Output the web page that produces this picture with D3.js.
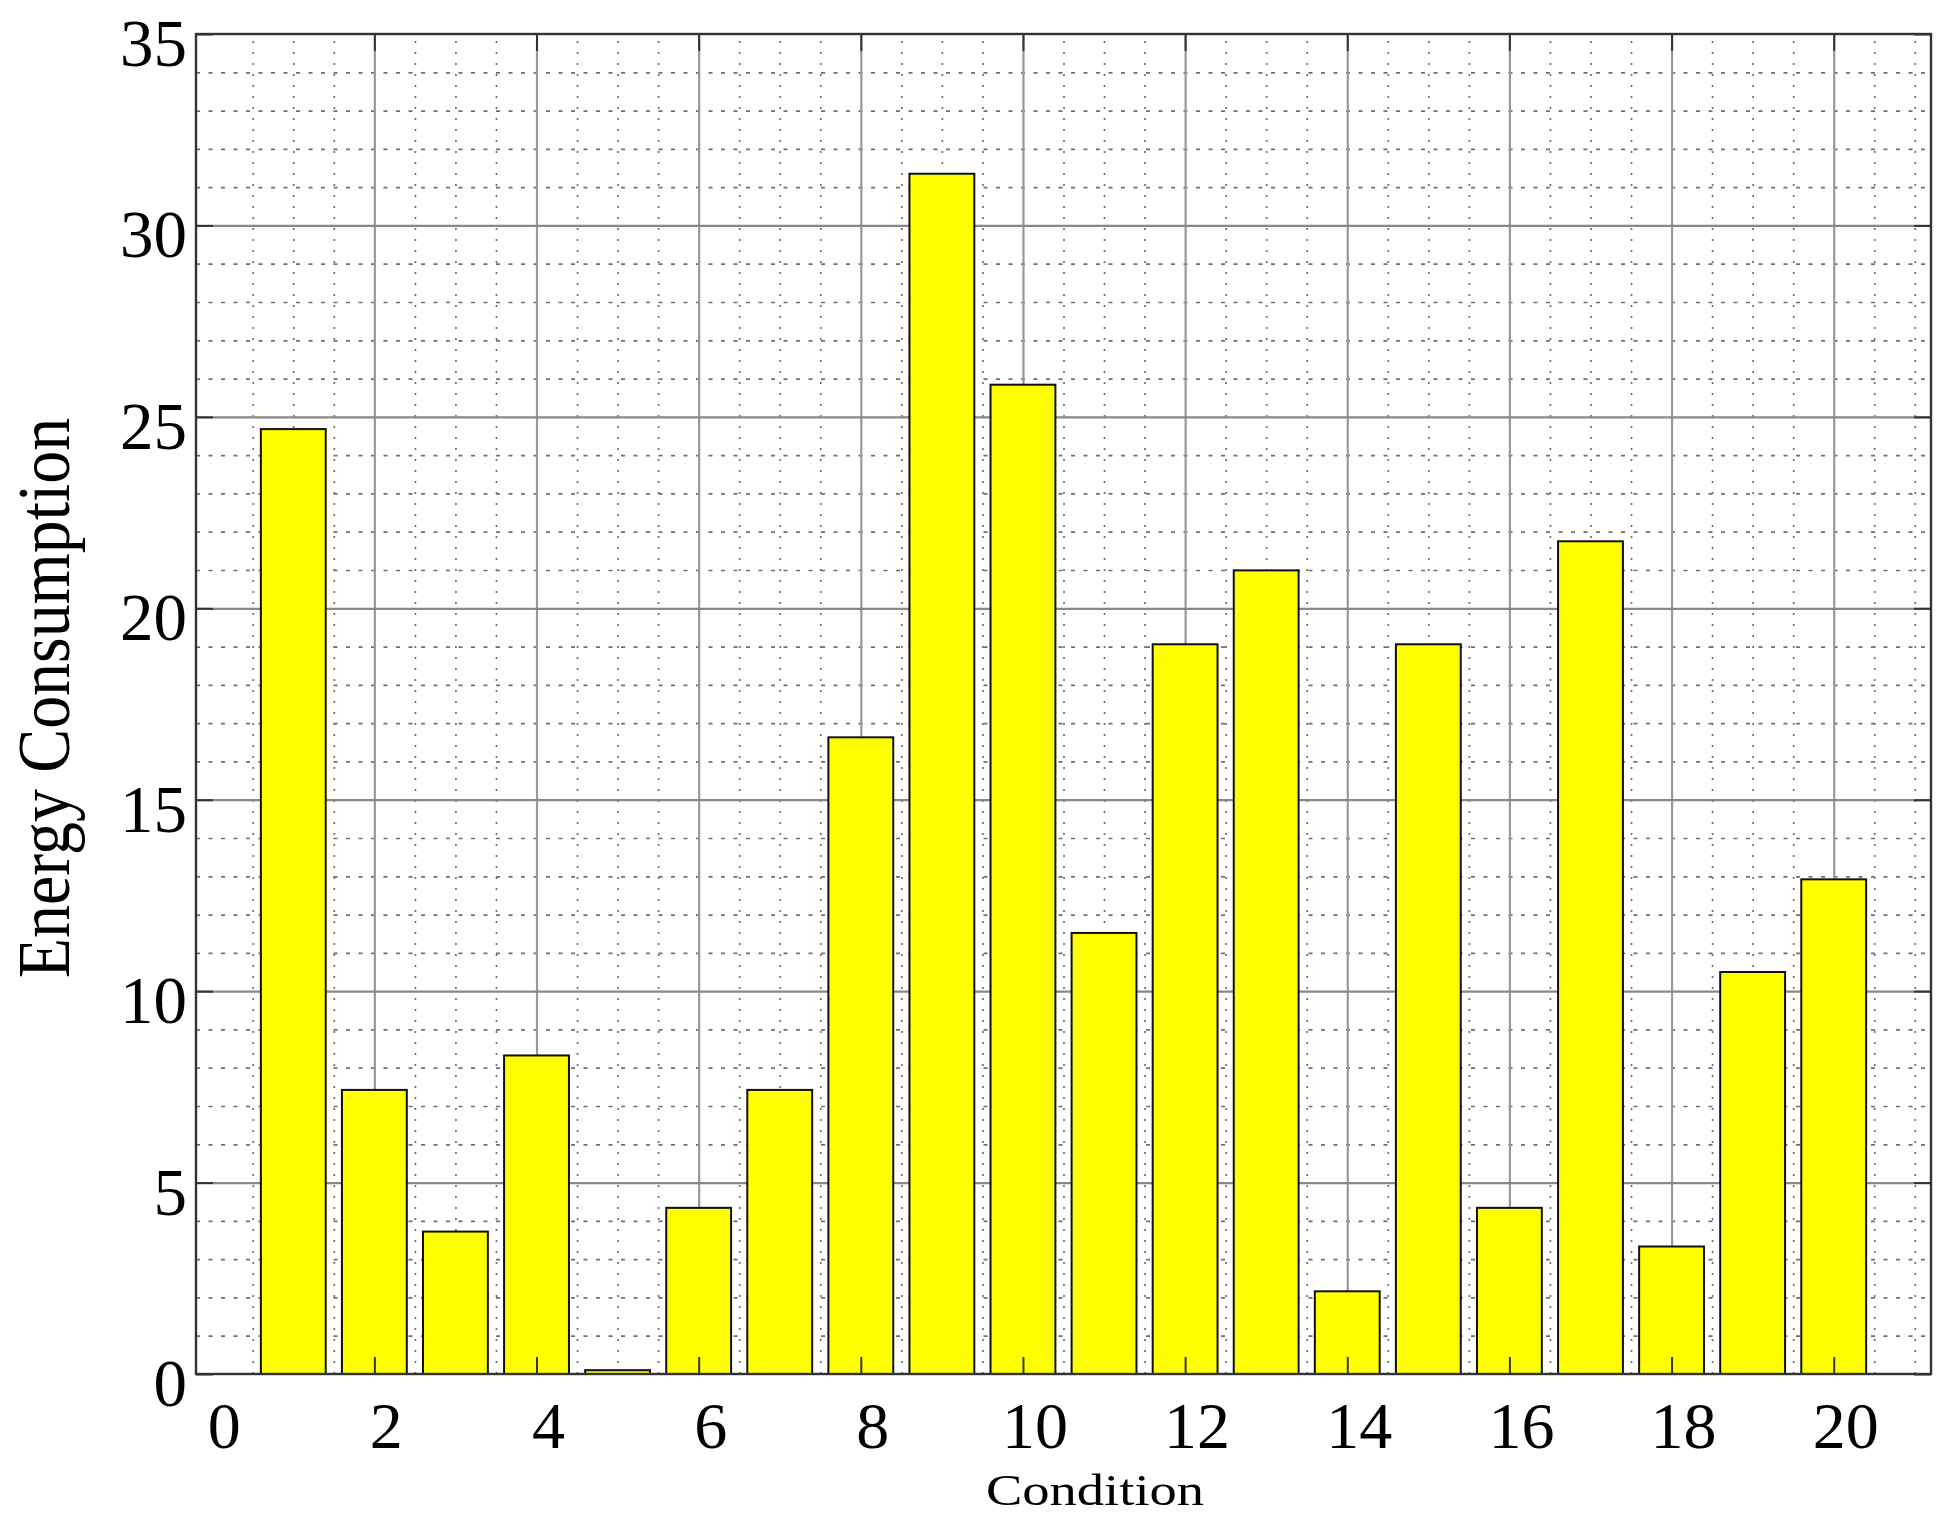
<!DOCTYPE html>
<html>
<head>
<meta charset="utf-8">
<script src="https://cdn.jsdelivr.net/npm/d3@7"></script>
<style>
  body { margin: 0; background: #fff; }
  text { font-family: "Liberation Serif", "Times New Roman", serif; fill: #000; }
</style>
</head>
<body>
<div id="chart"></div>
<script>
// data
const conditions = d3.range(1, 21);
const energy = [24.68, 7.42, 3.72, 8.32, 0.1, 4.34, 7.42, 16.63, 31.35, 25.84,
                11.52, 19.06, 20.99, 2.16, 19.06, 4.34, 21.75, 3.33, 10.5, 12.92];
const xTicks = [0, 2, 4, 6, 8, 10, 12, 14, 16, 18, 20];
const yTicks = [0, 5, 10, 15, 20, 25, 30, 35];

const width = 1948, height = 1524;
const mLeft = 196, mRight = 1931, mTop = 34, mBottom = 1374;

const svg = d3.select('#chart').append('svg')
  .attr('width', width)
  .attr('height', height);

const x = d3.scaleLinear().domain([-0.2, 21.2]).range([mLeft, mRight]);
const y = d3.scaleLinear().domain([0, 35]).range([mBottom, mTop]);

// minor grid, vertical (dotted) every 0.5
const xMinor = d3.range(0.5, 21.01, 0.5).filter(v => v % 2 !== 0);
svg.append('g').attr('transform', 'translate(0,' + mBottom + ')')
  .call(d3.axisBottom(x).tickValues(xMinor).tickSize(-(mBottom - mTop)).tickFormat(''))
  .call(g => g.select('.domain').remove())
  .selectAll('line')
  .attr('stroke', '#707070').attr('stroke-width', 1.7).attr('stroke-dasharray', '2,9');

// minor grid, horizontal (dashed) every 1
const yMinor = d3.range(1, 35).filter(v => v % 5 !== 0);
svg.append('g').attr('transform', 'translate(' + mLeft + ',0)')
  .call(d3.axisLeft(y).tickValues(yMinor).tickSize(-(mRight - mLeft)).tickFormat(''))
  .call(g => g.select('.domain').remove())
  .selectAll('line')
  .attr('stroke', '#707070').attr('stroke-width', 1.7).attr('stroke-dasharray', '4,8.5');

// major grid
const xMajor = xTicks.filter(v => v > 0);
svg.append('g').attr('transform', 'translate(0,' + mBottom + ')')
  .call(d3.axisBottom(x).tickValues(xMajor).tickSize(-(mBottom - mTop)).tickFormat(''))
  .call(g => g.select('.domain').remove())
  .selectAll('line')
  .attr('stroke', '#999').attr('stroke-width', 2.2);

svg.append('g').attr('transform', 'translate(' + mLeft + ',0)')
  .call(d3.axisLeft(y).tickValues(yTicks.filter(v => v > 0 && v < 35)).tickSize(-(mRight - mLeft)).tickFormat(''))
  .call(g => g.select('.domain').remove())
  .selectAll('line')
  .attr('stroke', '#888').attr('stroke-width', 2.2);

// bars
svg.append('g').selectAll('rect')
  .data(energy)
  .join('rect')
  .attr('x', (d, i) => x(conditions[i] - 0.4))
  .attr('width', (d, i) => x(conditions[i] + 0.4) - x(conditions[i] - 0.4))
  .attr('y', d => y(d))
  .attr('height', d => y(0) - y(d))
  .attr('fill', '#ffff00')
  .attr('stroke', '#111')
  .attr('stroke-width', 2);

// inward ticks on all four sides (none at x = 0)
const tickLen = 17;
svg.append('g').attr('transform', 'translate(0,' + mBottom + ')')
  .call(d3.axisBottom(x).tickValues(xMajor).tickSize(-tickLen).tickFormat(''))
  .call(g => g.select('.domain').remove())
  .selectAll('line').attr('stroke', '#333').attr('stroke-width', 2);
svg.append('g').attr('transform', 'translate(0,' + mTop + ')')
  .call(d3.axisTop(x).tickValues(xMajor).tickSize(-tickLen).tickFormat(''))
  .call(g => g.select('.domain').remove())
  .selectAll('line').attr('stroke', '#333').attr('stroke-width', 2);
svg.append('g').attr('transform', 'translate(' + mLeft + ',0)')
  .call(d3.axisLeft(y).tickValues(yTicks).tickSize(-tickLen).tickFormat(''))
  .call(g => g.select('.domain').remove())
  .selectAll('line').attr('stroke', '#333').attr('stroke-width', 2);
svg.append('g').attr('transform', 'translate(' + mRight + ',0)')
  .call(d3.axisRight(y).tickValues(yTicks).tickSize(-tickLen).tickFormat(''))
  .call(g => g.select('.domain').remove())
  .selectAll('line').attr('stroke', '#333').attr('stroke-width', 2);

// frame
svg.append('rect')
  .attr('x', mLeft).attr('y', mTop)
  .attr('width', mRight - mLeft).attr('height', mBottom - mTop)
  .attr('fill', 'none').attr('stroke', '#333').attr('stroke-width', 2.4);

// tick labels
svg.append('g').selectAll('text')
  .data(xTicks)
  .join('text')
  .attr('x', d => x(d) + 12)
  .attr('y', 1448)
  .style('font-size', '66px')
  .style('text-anchor', 'middle')
  .text(d => d);

svg.append('g').selectAll('text')
  .data(yTicks)
  .join('text')
  .attr('x', 187)
  .attr('y', d => y(d) + 32)
  .style('font-size', '67px')
  .style('text-anchor', 'end')
  .text(d => d);

// axis titles
svg.append('text')
  .attr('transform', 'translate(1095,1505) scale(1.24,1)')
  .style('font-size', '44px')
  .style('text-anchor', 'middle')
  .text('Condition');

svg.append('text')
  .attr('transform', 'translate(69,698) rotate(-90) scale(0.89,1)')
  .style('font-size', '74px')
  .style('text-anchor', 'middle')
  .text('Energy Consumption');
</script>
</body>
</html>
